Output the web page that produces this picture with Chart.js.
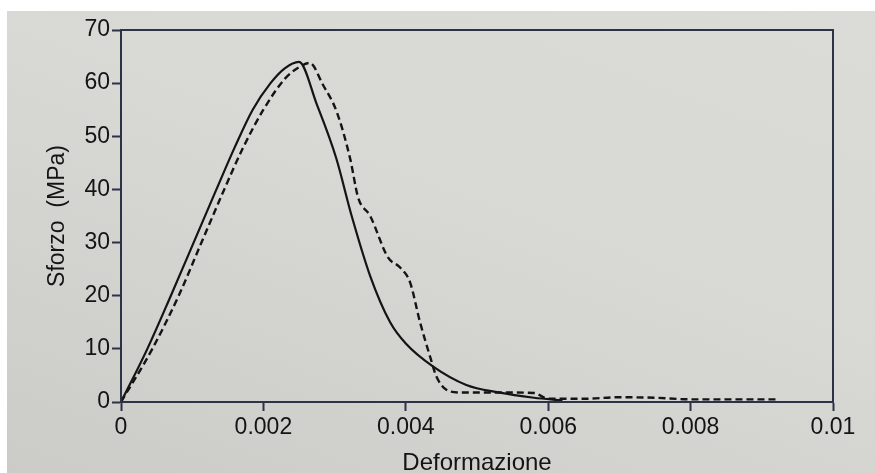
<!DOCTYPE html>
<html>
<head>
<meta charset="utf-8">
<script src="https://cdn.jsdelivr.net/npm/chart.js@4"></script>
<style>
  html, body { margin: 0; padding: 0; }
  body {
    width: 875px; height: 473px; overflow: hidden;
    background:
      linear-gradient(#fff, #fff) top left / 100% 11px no-repeat,
      linear-gradient(#fff, #fff) top left / 7px 100% no-repeat,
      linear-gradient(20deg, #cbcbc8, #d8d8d5 55%, #dbdbd8);
  }
  #wrap { position: absolute; left: 0; top: 0; width: 875px; height: 473px; }
</style>
</head>
<body>
<div id="wrap"><canvas id="stressChart" width="875" height="473"></canvas></div>
<script>
// curva continua
let solidStrain = [0, 0.00037, 0.0007, 0.00102, 0.00134, 0.0016, 0.00185, 0.0021, 0.0023, 0.0025,
  0.00275, 0.00302, 0.00324, 0.0035, 0.00378, 0.004, 0.00438, 0.00485, 0.0053, 0.0058, 0.0062];
let solidStress = [0, 10, 20, 30, 40, 48, 55, 60, 62.8, 64,
  56, 46, 35, 23.7, 15, 11, 6.7, 3.2, 1.8, 0.8, 0.3];

// curva tratteggiata
let dashStrain = [0, 0.00044, 0.00081, 0.00113, 0.00145, 0.00172, 0.002, 0.0023, 0.0025, 0.00265,
  0.00284, 0.00303, 0.00322, 0.00333, 0.0035, 0.00375, 0.00392, 0.00406, 0.0042, 0.00434, 0.00443,
  0.00457, 0.00475, 0.0052, 0.0058, 0.006, 0.0065, 0.007, 0.0075, 0.008, 0.0092];
let dashStress = [0, 10, 20, 30, 40, 48, 55, 60.8, 63, 63.8,
  59.6, 54.6, 45.7, 38.5, 35, 27.2, 25.3, 22.5, 15, 8.6, 4.8,
  2.3, 1.8, 1.8, 1.7, 0.6, 0.6, 0.9, 0.8, 0.5, 0.5];

let xTicks = [0, 0.002, 0.004, 0.006, 0.008, 0.01];
let yTicks = [0, 10, 20, 30, 40, 50, 60, 70];

function toPoints(xs, ys) {
  return xs.map(function (x, i) { return { x: x, y: ys[i] }; });
}

let ink = "#141416";
let frame = "#2e3246";
let face = "Liberation Sans, Arial, sans-serif";

// cornice completa attorno all'area del grafico
let boxPlugin = {
  id: "box",
  afterDraw: function (chart) {
    let a = chart.chartArea;
    let ctx = chart.ctx;
    ctx.save();
    ctx.strokeStyle = frame;
    ctx.lineWidth = 2;
    ctx.strokeRect(a.left, a.top, a.right - a.left, a.bottom - a.top);
    ctx.restore();
  }
};

new Chart("stressChart", {
  type: "scatter",
  data: {
    datasets: [{
      data: toPoints(solidStrain, solidStress),
      showLine: true,
      borderColor: ink,
      borderWidth: 2.2,
      pointRadius: 0,
      cubicInterpolationMode: "monotone"
    }, {
      data: toPoints(dashStrain, dashStress),
      showLine: true,
      borderColor: ink,
      borderWidth: 2.4,
      borderDash: [7, 4],
      pointRadius: 0,
      cubicInterpolationMode: "monotone"
    }]
  },
  plugins: [boxPlugin],
  options: {
    responsive: false,
    animation: false,
    layout: { padding: { left: 32, top: 30, right: 42, bottom: 0 } },
    plugins: { legend: { display: false }, tooltip: { enabled: false } },
    scales: {
      x: {
        type: "linear",
        min: 0,
        max: 0.01,
        afterFit: function (s) { s.height = 71; },
        afterBuildTicks: function (s) { s.ticks = xTicks.map(function (v) { return { value: v }; }); },
        ticks: {
          color: ink,
          font: { family: face, size: 23 },
          padding: 3,
          maxRotation: 0,
          callback: function (v) { return String(Number(v.toFixed(4))); }
        },
        grid: { drawOnChartArea: false, drawTicks: true, tickLength: 9, tickColor: frame, tickWidth: 2 },
        border: { display: true, color: frame, width: 2 },
        title: {
          display: true,
          text: "Deformazione",
          color: ink,
          font: { family: face, size: 24, lineHeight: 0.8 },
          padding: 0
        }
      },
      y: {
        min: 0,
        max: 70,
        afterFit: function (s) { s.width = 89; },
        afterBuildTicks: function (s) { s.ticks = yTicks.map(function (v) { return { value: v }; }); },
        ticks: {
          color: ink,
          font: { family: face, size: 23 },
          padding: 2
        },
        grid: { drawOnChartArea: false, drawTicks: true, tickLength: 9, tickColor: frame, tickWidth: 2 },
        border: { display: true, color: frame, width: 2 },
        title: {
          display: true,
          text: "Sforzo  (MPa)",
          color: ink,
          font: { family: face, size: 23 },
          padding: { top: 12, bottom: 0 }
        }
      }
    }
  }
});
</script>
</body>
</html>
